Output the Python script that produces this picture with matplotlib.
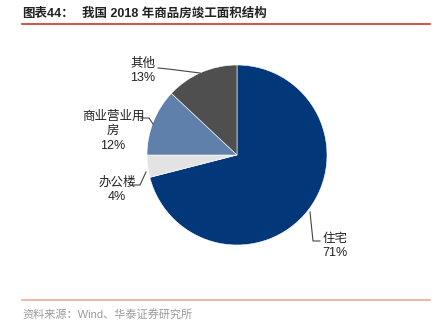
import matplotlib.pyplot as plt

# data
labels = ["住宅", "办公楼", "商业营业用\n房", "其他"]
shares = [71, 4, 12, 13]
colors = ["#02377a", "#e3e3e3", "#5f80aa", "#4f4f4f"]

W, H = 439, 329
fig = plt.figure(figsize=(W / 100, H / 100), dpi=100, facecolor="white")
ax = fig.add_axes([0, 0, 1, 1])

fonts = ["Liberation Sans", "Noto Sans CJK SC"]


def Y(y):
    # pixel row from the top -> data y
    return H - y


# pie
cx, cy, r = 237, 155, 90
wedges, _ = ax.pie(shares, colors=colors, startangle=90, counterclock=False,
                   center=(cx, Y(cy)), radius=r, frame=True,
                   wedgeprops=dict(edgecolor="white", linewidth=0.4))
ax.set_xlim(0, W)
ax.set_ylim(0, H)
ax.set_aspect("equal")
ax.axis("off")

# labels and leader lines
lab_pos = [(335, 246), (117, 190), (113, 131), (143, 71)]
leaders = [
    [(310, 212), (313, 241), (320, 241)],
    [(146, 172), (140, 185), (133, 185)],
    [(153, 124), (149, 118), (141, 118)],
    [(200, 73), (168, 69), (158, 68)],
]
for lab, share, (lx, ly), pts in zip(labels, shares, lab_pos, leaders):
    ax.text(lx, Y(ly), f"{lab}\n{share}%", ha="center", va="center",
            fontsize=9, family=fonts, color="#222222", linespacing=1.3)
    xs = [p[0] for p in pts]
    ys = [Y(p[1]) for p in pts]
    ax.plot(xs, ys, color="#444444", linewidth=0.8)

# title
ax.text(22, Y(14), "图表44：", ha="left", va="center", fontsize=9,
        fontweight="bold", family=fonts, color="#222222")
ax.text(82, Y(14), "我国 2018 年商品房竣工面积结构", ha="left", va="center",
        fontsize=9, fontweight="bold", family=fonts, color="#222222")
ax.plot([22, 430], [Y(23.5), Y(23.5)], color="#d1342b", linewidth=1.2)

# footer
ax.plot([22, 430], [Y(300), Y(300)], color="#f4a59b", linewidth=1.2)
ax.text(22, Y(314), "资料来源：Wind、华泰证券研究所", ha="left", va="center",
        fontsize=8, family=fonts, color="#9a9a9a")

plt.savefig("out.png", dpi=100, facecolor="white")
